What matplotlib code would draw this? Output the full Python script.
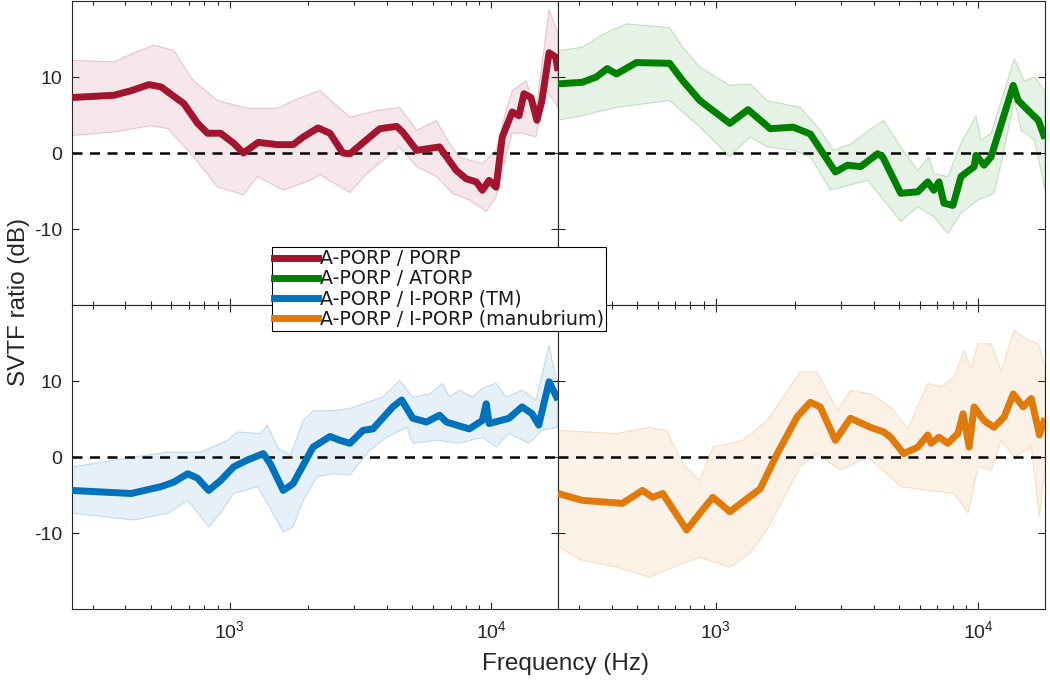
import numpy as np
import matplotlib
matplotlib.use("Agg")
import matplotlib.pyplot as plt
from matplotlib.colors import to_rgba
from matplotlib.lines import Line2D

plt.rcParams['font.family'] = ['Liberation Sans', 'DejaVu Sans']
plt.rcParams['mathtext.fontset'] = 'custom'
plt.rcParams['mathtext.rm'] = 'Liberation Sans'
plt.rcParams['axes.unicode_minus'] = False

# ===================== 数据 =====================
# A-PORP / PORP
f_red = [250, 362, 421, 492, 547, 669, 755, 824, 924, 1036, 1130, 1288, 1522, 1750, 1910, 2177, 2420, 2711,
         2884, 3148, 3750, 4352, 4590, 5190, 6345, 6620, 7360, 8030, 8770, 9250, 9820, 10440, 11020, 12030,
         12770, 13340, 14190, 14960, 15630, 16640, 17660, 18000]
db_red = [7.3, 7.6, 8.2, 9.0, 8.7, 6.5, 3.9, 2.6, 2.6, 1.3, 0.0, 1.4, 1.1, 1.1, 2.1, 3.3, 2.6, 0.0,
          -0.1, 1.0, 3.2, 3.5, 2.75, 0.35, 0.8, -0.1, -2.3, -3.4, -3.8, -4.9, -3.6, -4.5, 2.1, 5.4,
          4.9, 7.8, 7.3, 4.3, 6.9, 13.2, 12.6, 10.8]
fup_red = [250, 362, 432, 514, 612, 729, 900, 1171, 1522, 1862, 2218, 2884, 3655, 4467, 5190, 6180, 6920,
           7555, 9245, 10440, 11400, 12030, 13590, 14820, 16640, 17660, 18000]
up_red = [12.2, 12.0, 13.2, 14.2, 13.5, 9.5, 6.9, 5.9, 5.9, 7.3, 8.2, 4.7, 5.6, 6.0, 3.0, 4.3, 1.3,
          -0.5, -1.4, 0.35, 5.6, 8.2, 9.5, 5.6, 18.9, 16.5, 15.7]
flo_red = [250, 362, 501, 581, 729, 900, 1130, 1278, 1604, 2031, 2218, 2884, 3350, 4467, 5190, 6180, 7110,
           8250, 9570, 10440, 11020, 12030, 13120, 14820, 16180, 17660, 18000]
lo_red = [2.3, 2.75, 3.6, 3.2, -0.5, -4.5, -5.5, -3.1, -4.9, -3.6, -2.9, -5.2, -2.7, 0.8, -1.8, -3.1, -5.3,
          -6.2, -7.7, -5.8, -2.3, 2.6, 2.6, 2.1, 8.2, 6.5, 6.0]

# A-PORP / ATORP
f_green = [250, 309, 350, 385, 418, 498, 666, 748, 869, 1131, 1327, 1612, 1973, 2292, 2570, 2857, 3175, 3563,
           4140, 4325, 5070, 5890, 6430, 6780, 7095, 7410, 8020, 8610, 9660, 9820, 10540, 11210, 11930,
           13620, 14230, 15960, 16980, 18000]
db_green = [9.1, 9.3, 10.0, 11.1, 10.4, 11.9, 11.8, 9.5, 6.9, 3.9, 5.7, 3.2, 3.4, 2.5, -0.1, -2.5, -1.6, -1.8,
            -0.1, -0.5, -5.3, -5.1, -3.8, -4.9, -3.8, -6.6, -6.9, -3.1, -1.8, -0.3, -1.6, -0.5, 2.5,
            8.9, 6.9, 5.2, 4.3, 1.9]
fup_green = [250, 309, 369, 456, 666, 748, 869, 1131, 1349, 1568, 2098, 2501, 2806, 3260, 3999, 4365, 5070,
             5890, 6490, 6780, 7675, 8610, 9820, 10260, 11210, 12250, 13740, 15010, 16400, 18000]
up_green = [13.5, 13.9, 15.6, 17.0, 16.5, 13.9, 11.3, 8.9, 9.1, 6.9, 6.0, 3.0, 0.35, 1.2, 3.4, 4.3, 0.8,
            -2.3, -0.5, -2.7, -3.1, 1.3, 4.9, 1.7, 2.6, 6.9, 12.4, 9.5, 10.0, 8.2]
flo_green = [250, 309, 418, 666, 869, 1131, 1349, 1568, 1973, 2292, 2735, 3793, 5070, 5890, 6780, 7675, 8610,
             10000, 11510, 12250, 13740, 14620, 16400, 18000]
lo_green = [4.3, 4.9, 6.0, 6.9, 3.4, -0.5, 2.1, 0.8, 0.35, -0.5, -4.9, -3.6, -9.0, -7.1, -8.4, -10.6, -7.9,
            -6.2, -5.3, -1.4, 6.9, 3.0, 1.7, -4.9]

# A-PORP / I-PORP (TM)
f_blue = [250, 323, 421, 547, 613, 692, 755, 832, 924, 1036, 1170, 1346, 1432, 1604, 1750, 2085, 2420, 2640,
          2884, 3235, 3535, 4208, 4550, 5014, 5660, 6345, 6745, 7360, 8250, 9250, 9570, 9820, 11700, 13120,
          14320, 15200, 16640, 18000]
db_blue = [-4.4, -4.6, -4.8, -3.9, -3.3, -2.2, -2.8, -4.4, -3.1, -1.3, -0.4, 0.45, -0.9, -4.4, -3.5, 1.3, 2.7,
           2.2, 1.8, 3.5, 3.7, 6.6, 7.5, 5.1, 4.6, 5.5, 4.6, 4.2, 3.7, 4.8, 7.0, 4.4, 5.1, 6.6,
           5.7, 4.2, 9.9, 7.5]
fup_blue = [250, 432, 581, 776, 983, 1073, 1312, 1395, 1522, 1706, 1912, 2085, 2485, 2884, 3853, 4467, 5012,
            5810, 6515, 6920, 7555, 8470, 9245, 10440, 11400, 13120, 14820, 16640, 17660, 18000]
up_blue = [-1.3, 0.0, 0.65, 0.65, 2.2, 3.3, 3.1, 4.2, 1.3, 0.2, 4.8, 6.1, 6.1, 6.4, 7.9, 10.1, 7.9,
           8.3, 9.7, 7.9, 8.8, 7.9, 9.0, 9.7, 7.9, 8.8, 7.5, 14.7, 10.5, 10.0]
flo_blue = [250, 432, 581, 692, 832, 924, 1036, 1278, 1395, 1604, 1750, 1912, 2164, 2485, 2884, 3436, 3990,
            4752, 5012, 6180, 7555, 9245, 10440, 11700, 13930, 15630, 18000]
lo_blue = [-7.4, -8.3, -7.4, -5.7, -9.2, -7.4, -4.8, -3.9, -6.1, -9.9, -9.2, -5.7, -2.6, -2.2, -2.4, 0.9, 2.6,
           3.9, 1.8, 2.2, 1.8, 2.6, 1.3, 3.1, 1.8, 3.5, 3.9]

# A-PORP / I-PORP (manubrium)
f_orange = [250, 309, 440, 525, 574, 627, 774, 869, 974, 1131, 1314, 1475, 1715, 2043, 2292, 2500, 2857, 3260,
            3890, 4365, 4643, 5200, 5890, 6430, 6610, 7095, 7670, 8380, 8770, 9250, 9660, 10540, 11500,
            12590, 13620, 14860, 15960, 17140, 18000]
db_orange = [-4.8, -5.7, -6.1, -4.4, -5.3, -4.8, -9.6, -7.4, -5.3, -7.2, -5.5, -4.2, 0.45, 5.3, 7.2, 6.6, 2.2,
             5.1, 3.9, 3.3, 2.6, 0.45, 1.3, 2.9, 1.8, 2.6, 1.8, 3.1, 5.7, 1.3, 6.6, 4.8, 3.9,
             5.3, 8.3, 6.6, 7.7, 2.9, 5.1]
fup_orange = [250, 418, 558, 649, 748, 869, 974, 1269, 1568, 2098, 2437, 2910, 3260, 3890, 4643, 5395, 6430,
              7210, 8090, 8840, 9400, 10000, 11210, 12250, 13740, 15560, 16980, 18000]
up_orange = [3.5, 3.1, 3.9, 3.5, -0.9, -3.1, 1.3, 2.2, 4.8, 11.2, 11.2, 6.1, 8.8, 8.3, 6.6, 3.7, 9.7,
             9.2, 10.5, 14.0, 11.8, 14.9, 14.9, 11.4, 16.7, 15.4, 14.9, 11.8]
flo_orange = [250, 309, 418, 558, 748, 869, 1131, 1349, 1568, 2098, 2437, 2985, 3793, 5070, 6430, 8090, 9160,
              10000, 11210, 12250, 13740, 15960, 17140, 18000]
lo_orange = [-11.8, -13.6, -14.5, -15.8, -14.0, -13.2, -14.5, -12.7, -9.6, -1.3, 0.45, -1.75, 0.0, -3.9, -4.4,
             -4.8, -7.4, -1.3, -1.75, 2.2, 0.0, 1.3, -7.9, -1.3]

labels = ["A-PORP / PORP", "A-PORP / ATORP", "A-PORP / I-PORP (TM)", "A-PORP / I-PORP (manubrium)"]
colors = ["#A2142F", "#008000", "#0072BD", "#DF7A0B"]

series = [
    (f_red, db_red, fup_red, up_red, flo_red, lo_red),
    (f_green, db_green, fup_green, up_green, flo_green, lo_green),
    (f_blue, db_blue, fup_blue, up_blue, flo_blue, lo_blue),
    (f_orange, db_orange, fup_orange, up_orange, flo_orange, lo_orange),
]

# ===================== 绘图 =====================
W, H = 1050, 684
fig = plt.figure(figsize=(W / 100, H / 100), dpi=100)

xl, xm, xr = 72 / W, 558 / W, 1045 / W
yt, ym, yb = 1 - 1 / H, 1 - 305 / H, 1 - 609 / H
rects = [
    [xl, ym, xm - xl, yt - ym],
    [xm, ym, xr - xm, yt - ym],
    [xl, yb, xm - xl, ym - yb],
    [xm, yb, xr - xm, ym - yb],
]

axes = []
for i, (rect, s, c) in enumerate(zip(rects, series, colors)):
    ax = fig.add_axes(rect)
    f, db, fu, up, fl, lo = s
    poly_x = np.concatenate([fu, fl[::-1]])
    poly_y = np.concatenate([up, lo[::-1]])
    ax.fill(poly_x, poly_y, facecolor=to_rgba(c, 0.1), edgecolor=to_rgba(c, 0.2), linewidth=0.8, zorder=1)
    ax.axhline(0, color="black", linestyle=(0, (4, 3)), linewidth=1.8, zorder=2)
    ax.plot(f, db, color=c, linewidth=5, solid_joinstyle="round", solid_capstyle="butt", zorder=3)

    ax.set_xscale("log")
    ax.set_xlim(250, 18000)
    ax.set_ylim(-20, 20)
    ax.set_yticks([-10, 0, 10])
    ax.tick_params(which="both", direction="in", top=True, right=True, colors="#262626",
                   labelsize=14, width=0.8)
    ax.tick_params(which="major", length=5)
    ax.tick_params(which="minor", length=3)
    ax.tick_params(axis="x", pad=8)
    ax.tick_params(axis="y", pad=7)
    for sp in ax.spines.values():
        sp.set_color("#262626")
        sp.set_linewidth(0.8)
    if i < 2:
        ax.tick_params(axis="x", which="both", labelbottom=False)
    if i % 2 == 1:
        ax.tick_params(axis="y", which="both", labelleft=False)
    axes.append(ax)

fig.text(19 / W, 1 - 302 / H, "SVTF ratio (dB)", rotation=90, ha="center", va="center",
         fontsize=17.5, color="#262626")
fig.text(565 / W, 1 - 664 / H, "Frequency (Hz)", ha="center", va="center", fontsize=17.5, color="#262626")

handles = [Line2D([0], [0], color=c, linewidth=5) for c in colors]
leg = fig.legend(handles, labels, loc="upper left", bbox_to_anchor=(272 / W, 1 - 247 / H),
                 prop={"family": "DejaVu Sans", "size": 13.7}, frameon=True, fancybox=False,
                 framealpha=1, edgecolor="black", borderpad=0.12, handlelength=2.3,
                 handletextpad=0.1, labelspacing=0.06, borderaxespad=0)
leg.get_frame().set_linewidth(0.8)
for t in leg.get_texts():
    t.set_color("#1a1a1a")

plt.savefig("out.png", dpi=100)
plt.close()
